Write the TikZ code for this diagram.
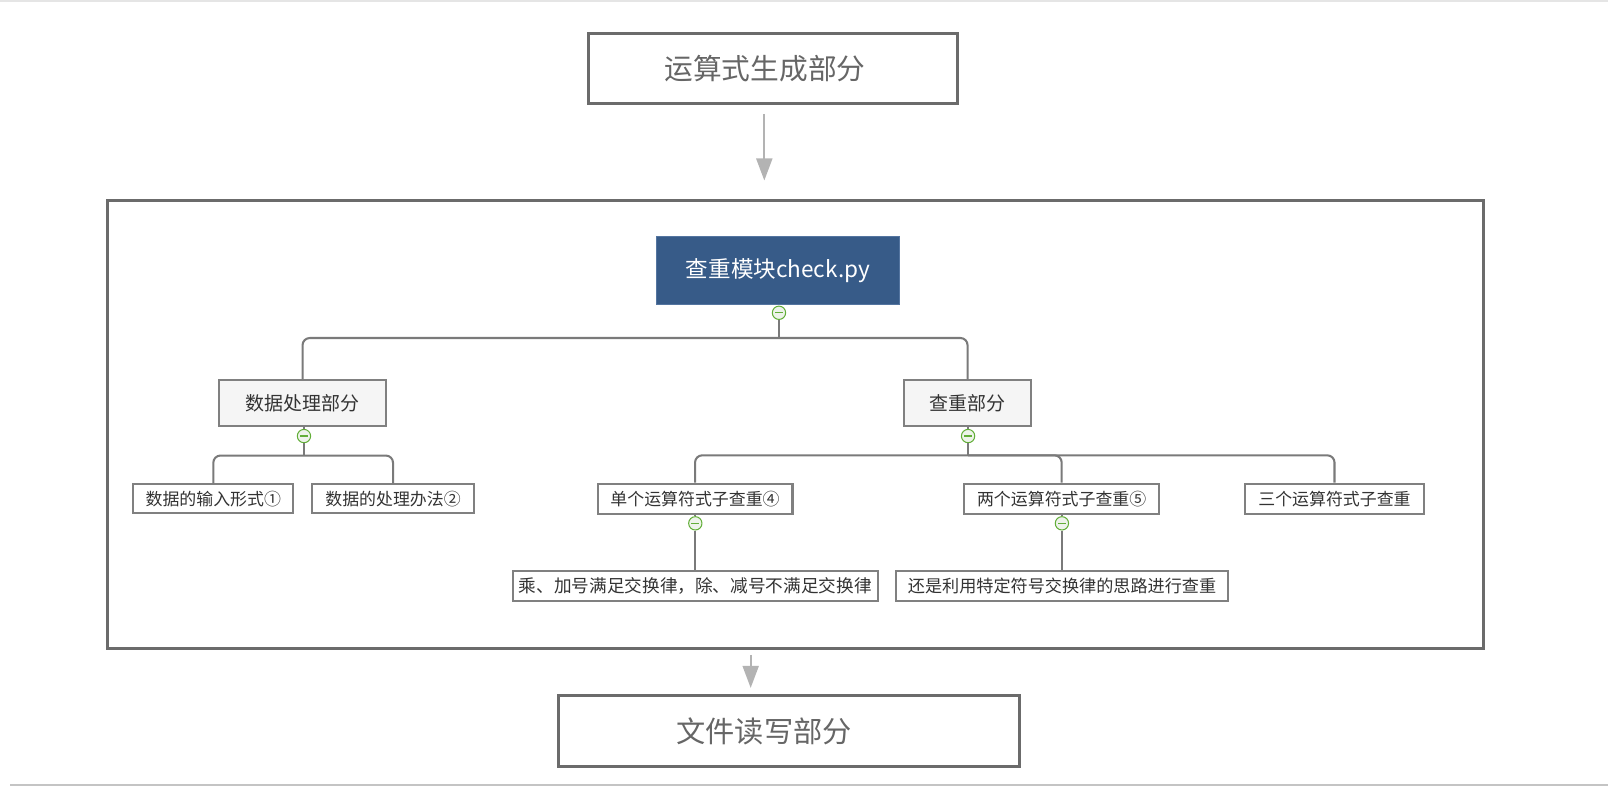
\documentclass[tikz,border=0pt]{standalone}
\usepackage{fontspec}
\setmainfont{Noto Sans CJK SC}
\usetikzlibrary{arrows.meta}
\definecolor{boxgray}{HTML}{6B6B6B}
\definecolor{txtgray}{HTML}{666666}
\definecolor{conngray}{HTML}{7A7A7A}
\definecolor{nodegray}{HTML}{808080}
\definecolor{nodefill}{HTML}{F5F5F5}
\definecolor{nodetext}{HTML}{333333}
\definecolor{rootblue}{HTML}{375B88}
\definecolor{rootedge}{HTML}{5475A0}
\definecolor{arrgray}{HTML}{B3B3B3}
\definecolor{knobgreen}{HTML}{62AE38}
\definecolor{knobfill}{HTML}{EDF3EA}
\begin{document}
\begin{tikzpicture}[x=1pt,y=-1pt,
  outerbox/.style={draw=boxgray, line width=3, inner sep=0, text=txtgray},
  rootbox/.style={draw=rootedge, fill=rootblue, line width=1, inner sep=0, text=white, font=\fontsize{22}{26}\selectfont},
  midbox/.style={draw=nodegray, fill=nodefill, line width=2, inner sep=0, text=nodetext, font=\fontsize{18.5}{22}\selectfont},
  leafbox/.style={draw=nodegray, fill=white, line width=2, inner sep=0, text=nodetext, font=\fontsize{16.5}{20}\selectfont},
  conn/.style={draw=conngray, line width=2},
  rc/.style={rounded corners=7},
  arr/.style={draw=arrgray, line width=2, -{Triangle[length=21.5,width=15.6]}},
  knob/.style={circle, draw=knobgreen, fill=knobfill, line width=1, minimum size=13, inner sep=0,
    path picture={\draw[knobgreen, line width=1.3]
      ([xshift=-3.8pt]path picture bounding box.center) -- ([xshift=3.8pt]path picture bounding box.center);}}
]
\useasboundingbox (0,0) rectangle (1568,766.4);
% screenshot edges
\draw[color=black!10, line width=1.5] (0,0.75) -- (1568,0.75);
\draw[color=black!23, line width=1.5] (10,765.3) -- (1568,765.3);

% outer boxes
\node[outerbox, minimum width=359.7, minimum height=67.9, font=\fontsize{28}{33}\selectfont] (top) at (753.5,67) {运算式生成部分\hspace*{15pt}};
\node[outerbox, minimum width=1341.6, minimum height=437] (big) at (775.7,414) {};
\node[outerbox, minimum width=450, minimum height=69.8, font=\fontsize{28.5}{34}\selectfont] (bot) at (769.5,712.8) {文件读写部分\hspace*{49pt}};

\coordinate (ax1) at (745.3,0);
\coordinate (ax2) at (732,0);
\draw[arr, shorten <=8.5, shorten >=18] (top.south -| ax1) -- (big.north -| ax1);
\draw[arr, shorten <=4.5, shorten >=5.6] (big.south -| ax2) -- (bot.north -| ax2);

% tree nodes
\node[rootbox, minimum width=237.5, minimum height=66.9] (root) at (758.65,263.75) {查重模块check.py};
\node[midbox, minimum width=163.4, minimum height=44.1] (dp) at (295,393) {数据处理部分};
\node[midbox, minimum width=123.1, minimum height=44.1] (cz) at (943.5,393) {查重部分};
\node[leafbox, minimum width=156, minimum height=28.2] (a1) at (208,486.4) {数据的输入形式①};
\node[leafbox, minimum width=157.9, minimum height=28.2] (a2) at (383.25,486.4) {数据的处理办法②};
\node[leafbox, minimum width=190.1, minimum height=29.2] (b1) at (677.75,486.3) {单个运算符式子查重④};
\node[leafbox, minimum width=190.5, minimum height=29.2] (b2) at (1035.25,486.3) {两个运算符式子查重⑤};
\node[leafbox, minimum width=174.6, minimum height=29.2] (b3) at (1301.3,486.3) {三个运算符式子查重};
\node[leafbox, minimum width=356.3, minimum height=29.2, font=\fontsize{17.2}{20}\selectfont] (c1) at (678.05,571.4) {乘、加号满足交换律，除、减号不满足交换律};
\node[leafbox, minimum width=323.8, minimum height=29.2, font=\fontsize{16.7}{20}\selectfont] (c2) at (1035.6,571.4) {还是利用特定符号交换律的思路进行查重};

% collapse knobs
\node[knob] (m0) at (759.6,305) {};
\node[knob] (m1) at (296.4,425.2) {};
\node[knob] (m2) at (944,425.2) {};
\node[knob] (m3) at (678,510.3) {};
\node[knob] (m4) at (1035.5,510.3) {};

\coordinate (j0) at (759.6,329.6);
\coordinate (j1) at (296.4,444.2);
\coordinate (j2) at (944,444);

% connectors
\draw[conn] (m0.south) -- (j0);
\draw[conn, rc] (dp.north) |- (j0) -| (cz.north);
\draw[conn] (dp.south -| m1) -- (m1.north);
\draw[conn] (m1.south) -- (j1);
\draw[conn, rc] (a1.north) |- (j1) -| (a2.north);
\draw[conn] (cz.south -| m2) -- (m2.north);
\draw[conn] (m2.south) -- (j2);
\draw[conn, rc] (b1.north) |- (j2) -| (b3.north);
\draw[conn, rc] (j2) -| (b2.north);
\draw[conn] (b1.south -| m3) -- (m3.north);
\draw[conn] (m3.south) -- (m3.south |- c1.north);
\draw[conn] (b2.south -| m4) -- (m4.north);
\draw[conn] (m4.south) -- (m4.south |- c2.north);
\end{tikzpicture}
\end{document}
